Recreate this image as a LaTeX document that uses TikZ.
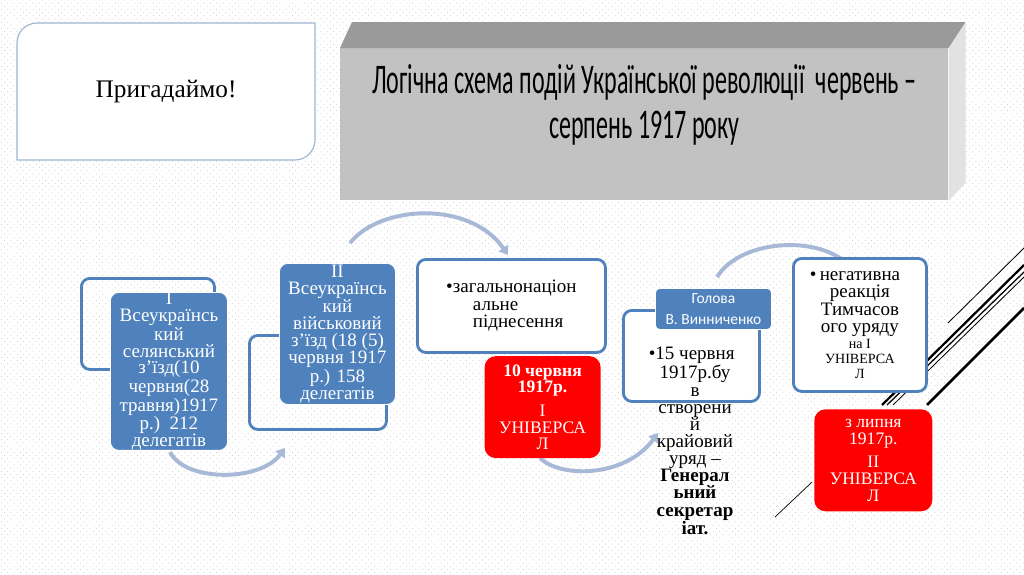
\documentclass[tikz,border=0pt]{standalone}
\usepackage{fontspec}
\setmainfont{Liberation Serif}
\newfontfamily\calfont{Carlito}
\newfontfamily\ttlfont[FakeStretch=0.57]{Carlito}
\usetikzlibrary{arrows.meta,positioning,calc,patterns.meta}
\definecolor{sblue}{HTML}{4F81BD}
\definecolor{arcblue}{HTML}{A7B9D7}
\definecolor{sred}{HTML}{FF0000}
\definecolor{frontgray}{HTML}{C2C2C2}
\definecolor{topgray}{HTML}{9A9A9A}
\definecolor{sidegray}{HTML}{E2E2E2}
\definecolor{pedge}{HTML}{9DB4D0}
\tikzdeclarepattern{
  name=slidedots,
  type=uncolored,
  bottom left={(-.1pt,-.1pt)},
  top right={(4.6pt,4.6pt)},
  tile size={(4.5pt,4.5pt)},
  code={\fill (1pt,1pt) circle (0.35pt); \fill (3.25pt,3.25pt) circle (0.35pt);}
}
\tikzset{
  box/.style={draw=sblue,line width=2pt,rounded corners=6pt,fill=white,inner sep=0pt,anchor=north west,align=center,font=\fontsize{13.5pt}{12.4pt}\selectfont},
  obox/.style={box,fill=none},
  bbox/.style={draw=white,line width=0.6pt,rounded corners=6pt,fill=sblue,text=white,inner sep=0pt,anchor=north west,align=center,font=\fontsize{13.5pt}{12pt}\selectfont},
  rbox/.style={fill=sred,rounded corners=8pt,text=white,inner sep=0pt,anchor=north west,align=center,font=\fontsize{12.5pt}{11.8pt}\selectfont},
  txt/.style={inner sep=0pt,align=center,font=\fontsize{13.5pt}{12.2pt}\selectfont},
  ttl/.style={inner sep=0pt,align=center,font=\ttlfont\fontsize{30pt}{32pt}\selectfont},
  arc/.style={draw=arcblue,line width=2.8pt,-{Triangle[length=6pt,width=8pt]}},
  deco/.style={draw=black,line cap=butt},
  pline/.style={draw=pedge,line width=0.8pt,fill=white},
}
\begin{document}
\begin{tikzpicture}[x=0.025cm,y=-0.025cm]
\useasboundingbox (0,0) rectangle (1024,574);
\fill[white] (0,0) rectangle (1024,574);
\fill[pattern=slidedots,pattern color=black!22] (0,0) rectangle (1024,574);

% diagonal strokes, right edge
\draw[deco,line width=0.5pt] (775,517) -- (812,482);
\draw[deco,line width=0.6pt] (948,323) -- (1024,248);
\draw[deco,line width=1.6pt] (882,405) -- (1024,265);
\draw[deco,line width=0.9pt] (887,405) -- (1024,272);
\draw[deco,line width=0.6pt] (893,405) -- (1024,277);
\draw[deco,line width=1.8pt] (927,405) -- (1024,308);

% reminder card
\coordinate (pnw) at (17,23);
\coordinate (pse) at (315,160);
\draw[pline] ($(pnw)+(0,20)$) .. controls +(0,-11) and +(-11,0) .. ($(pnw)+(20,0)$)
  -- (pse|-pnw) -- ($(pse)+(0,-20)$) .. controls +(0,11) and +(11,0) .. ($(pse)+(-20,0)$)
  -- (pnw|-pse) -- cycle;
\node[font=\fontsize{18pt}{20pt}\selectfont] (prig) at ($(pnw)!0.5!(pse)$) {Пригадаймо!};

% 3d title block
\node[fill=frontgray,anchor=north west,minimum width=15.2cm,minimum height=3.8cm,inner sep=0pt] (title) at (340,48) {};
\fill[topgray] (title.north west) -- ++(12,-26) -- ($(title.north east)+(17,-26)$) -- (title.north east) -- cycle;
\fill[sidegray] (title.north east) -- ++(17,-26) -- ($(title.south east)+(17,-18)$) -- (title.south east) -- cycle;
\node[ttl] (ttltxt) at ($(title.north)+(0,57)$) {Логічна схема подій Української революції\ \ червень –\\серпень 1917 року};

% curved arrows
\coordinate (a1s) at (350,243); \coordinate (a1e) at (508,255);
\coordinate (a2s) at (170,452); \coordinate (a2e) at (285,448);
\coordinate (a3s) at (540,458); \coordinate (a3e) at (658,433);
\coordinate (a4s) at (717,277); \coordinate (a4e) at (852,268);
\draw[arc] (a1s) .. controls (380,205) and (470,200) .. (a1e);
\draw[arc] (a2s) .. controls (185,482) and (260,482) .. (a2e);
\draw[arc] (a3s) .. controls (560,478) and (625,478) .. (a3e);
\draw[arc] (a4s) .. controls (740,240) and (815,235) .. (a4e);

% 1st congress
\node[obox,minimum width=3.325cm,minimum height=2.275cm] (frame1) at (80,277) {};
\node[bbox,minimum width=2.925cm,minimum height=3.9cm] (congr1) at (110,292)
  {I\\Всеукраїнсь\\кий\\селянський\\з’їзд(10\\червня(28\\травня)1917\\р.)\ \ 212\\делегатів};

% 2nd congress
\node[obox,minimum width=3.425cm,minimum height=2.35cm] (frame2) at (248,334) {};
\node[bbox,minimum width=2.9cm,minimum height=3.525cm] (congr2) at (279,263)
  {II\\Всеукраїнсь\\кий\\військовий\\з’їзд (18 (5)\\червня 1917\\р.) 158\\делегатів};

% national upsurge + I universal
\node[box,minimum width=4.7cm,minimum height=2.325cm,align=left] (mood) at (416,258)
  {\textbullet загальнонаціон\\\hspace*{19pt}альне\\\hspace*{19pt}піднесення};
\node[rbox,minimum width=2.9cm,minimum height=2.55cm,below left=0.05cm and 0.15cm of mood.south east] (univ1)
  {\textbf{10 червня}\\\textbf{1917р.}\\[5pt]I\\УНІВЕРСА\\Л};

% general secretariat
\node[box,minimum width=3.4cm,minimum height=2.275cm] (secr) at (622,309) {};
\node[bbox,rounded corners=3pt,minimum width=2.9cm,minimum height=1.025cm,font=\calfont\fontsize{11pt}{15pt}\selectfont] (head) at (655,288)
  {Голова\\В. Винниченко};
\node[txt,anchor=north] (secrtxt) at (695,347)
  {\llap{\textbullet}15 червня\\1917р.бу\\в\\створени\\й\\крайовий\\уряд –\\\textbf{Генерал}\\\textbf{ьний}\\\textbf{секретар}\\\textbf{іат.}};

% reaction + II universal
\node[box,minimum width=3.325cm,minimum height=3.325cm] (react) at (792,257)
  {\llap{\textbullet\,}негативна\\реакція\\Тимчасов\\ого уряду\\[-1pt]{\fontsize{10pt}{10pt}\selectfont на I}\\[-2pt]{\fontsize{10pt}{10pt}\selectfont УНІВЕРСА}\\[-2pt]{\fontsize{10pt}{10pt}\selectfont Л}};
\node[rbox,minimum width=2.95cm,minimum height=2.55cm] (univ2) at (814,409)
  {з липня\\1917р.\\[5pt]II\\УНІВЕРСА\\Л};
\end{tikzpicture}
\end{document}
